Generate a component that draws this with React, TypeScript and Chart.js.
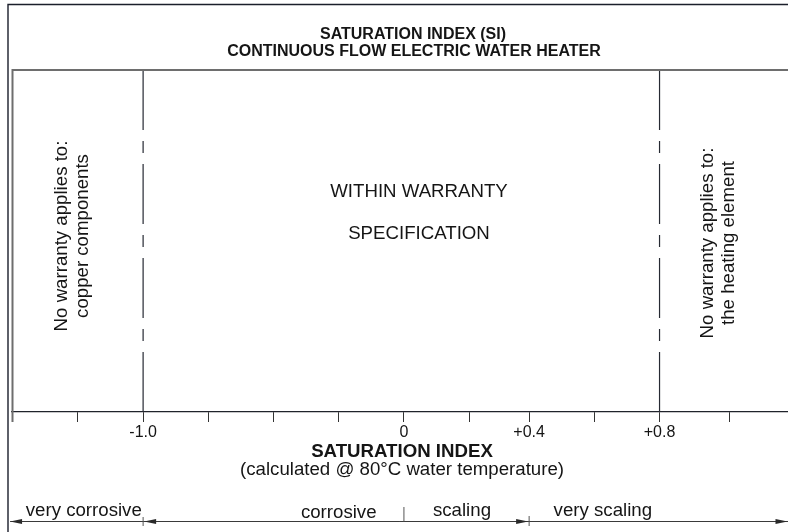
import React, { useEffect, useRef } from 'react';
import { Chart, registerables } from 'chart.js';

Chart.register(...registerables);

// ---- data ----
const CHART_TITLE = ['SATURATION INDEX (SI)', 'CONTINUOUS FLOW ELECTRIC WATER HEATER'];
const AXIS_TITLE = 'SATURATION INDEX';
const AXIS_SUBTITLE = '(calculated @ 80°C water temperature)';
// tick positions along the drawn axis (drawing is not linear in SI)
const SI_TICK_POS = [0, 1, 2, 3, 4, 5, 6, 7, 7.92, 8.93, 9.92, 11];
const SI_TICK_LABELS = ['', '', '-1.0', '', '', '', '0', '', '+0.4', '', '+0.8', ''];
// warranty limits at SI -1.0 and +0.8
const WARRANTY_LIMIT_POS = [2, 9.92];
const ZONE_BOUNDS = [-0.04, 2, 6, 7.92, 11.89];
const ZONE_LABELS = ['very corrosive', 'corrosive', 'scaling', 'very scaling'];
const ZONE_LABEL_POS = [1.09, 5.0, 6.89, 9.05];
const CENTER_TEXT = ['WITHIN WARRANTY', 'SPECIFICATION'];
const LEFT_TEXT = ['No warranty applies to:', 'copper components'];
const RIGHT_TEXT = ['No warranty applies to:', 'the heating element'];
const X_MIN = -0.0107;
const X_MAX = 11.89;

const FONT = '"Liberation Sans", Arial, Helvetica, sans-serif';
const INK = '#151515';
const LINE = '#262a33';

function arrowHead(ctx: CanvasRenderingContext2D, tipX: number, y: number, dir: number) {
  const len = 12;
  const half = 2.4;
  ctx.beginPath();
  ctx.moveTo(tipX, y);
  ctx.lineTo(tipX - dir * len, y - half);
  ctx.lineTo(tipX - dir * len, y + half);
  ctx.closePath();
  ctx.fill();
}

const drawingPlugin = {
  id: 'siDrawing',
  afterDraw(chart: any) {
    const ctx: CanvasRenderingContext2D = chart.ctx;
    const { left, right, top, bottom } = chart.chartArea;
    const xs = chart.scales.x;
    const px = (v: number) => xs.getPixelForValue(v);
    ctx.save();

    // outer frame
    ctx.strokeStyle = '#1b1f2b';
    ctx.lineWidth = 1.4;
    ctx.beginPath();
    ctx.moveTo(8, chart.height);
    ctx.lineTo(8, 4.5);
    ctx.lineTo(chart.width, 4.5);
    ctx.stroke();

    // inner box (top + left)
    ctx.strokeStyle = '#6e6e6e';
    ctx.lineWidth = 2;
    ctx.beginPath();
    ctx.moveTo(left + 0.5, bottom + 10);
    ctx.lineTo(left + 0.5, top);
    ctx.lineTo(right, top);
    ctx.stroke();

    // title
    ctx.fillStyle = INK;
    ctx.textAlign = 'center';
    ctx.textBaseline = 'alphabetic';
    ctx.font = `bold 16px ${FONT}`;
    ctx.fillText(CHART_TITLE[0], 413, 39);
    ctx.fillText(CHART_TITLE[1], 414, 55.5);

    // center text
    const midLimits = 419;
    ctx.font = `18.67px ${FONT}`;
    ctx.fillText(CENTER_TEXT[0], midLimits, 196.5);
    ctx.fillText(CENTER_TEXT[1], midLimits, 239);

    // rotated side texts
    const drawRotated = (lines: string[], cx: number, cy: number) => {
      ctx.save();
      ctx.translate(cx, cy);
      ctx.rotate(-Math.PI / 2);
      ctx.textAlign = 'center';
      ctx.textBaseline = 'alphabetic';
      ctx.fillText(lines[0], 0, -10.5);
      ctx.fillText(lines[1], 0, 10.5);
      ctx.restore();
    };
    const leftMid = (left + px(WARRANTY_LIMIT_POS[0])) / 2;
    const rightMid = (px(WARRANTY_LIMIT_POS[1]) + right) / 2;
    drawRotated(LEFT_TEXT, leftMid, 236);
    drawRotated(RIGHT_TEXT, rightMid, 243);

    // axis titles
    const axisMid = (left + right) / 2 + 2;
    ctx.font = `bold 18.67px ${FONT}`;
    ctx.fillText(AXIS_TITLE, axisMid, 456.5);
    ctx.font = `18.67px ${FONT}`;
    ctx.fillText(AXIS_SUBTITLE, axisMid, 475);

    // zone labels
    ZONE_LABELS.forEach((lab, i) => {
      ctx.fillText(lab, px(ZONE_LABEL_POS[i]), i === 1 ? 518 : 516);
    });

    // zone arrows
    const ay = 521.5;
    const x0 = px(ZONE_BOUNDS[0]);
    const x1 = px(ZONE_BOUNDS[1]);
    const x2 = px(ZONE_BOUNDS[2]);
    const x3 = px(ZONE_BOUNDS[3]);
    const x4 = px(ZONE_BOUNDS[4]);
    ctx.strokeStyle = '#3a3a3a';
    ctx.fillStyle = '#2a2a2a';
    ctx.lineWidth = 1;
    ctx.beginPath();
    ctx.moveTo(x0, ay);
    ctx.lineTo(x4, ay);
    ctx.stroke();
    arrowHead(ctx, x0, ay, -1);
    arrowHead(ctx, x1 + 1, ay, -1);
    arrowHead(ctx, x3 - 1, ay, 1);
    arrowHead(ctx, x4 - 0.5, ay, 1);
    ctx.strokeStyle = '#555';
    ctx.beginPath();
    ctx.moveTo(x1, ay - 4.5);
    ctx.lineTo(x1, ay + 4.5);
    ctx.moveTo(x2, ay - 14.5);
    ctx.lineTo(x2, ay);
    ctx.moveTo(x3, ay - 5.5);
    ctx.lineTo(x3, ay + 4.5);
    ctx.stroke();

    ctx.restore();
  },
};

export default function App() {
  const canvasRef = useRef<HTMLCanvasElement | null>(null);

  useEffect(() => {
    document.body.style.margin = '0';
    const canvas = canvasRef.current;
    if (!canvas) return;
    const chart = new Chart(canvas, {
      type: 'scatter',
      data: {
        datasets: WARRANTY_LIMIT_POS.map((p) => ({
          data: [
            { x: p, y: 1 },
            { x: p, y: 0 },
          ],
          showLine: true,
          borderColor: LINE,
          borderWidth: 1.2,
          borderDash: [60, 11, 12, 11],
          pointRadius: 0,
          fill: false,
        })),
      },
      options: {
        responsive: false,
        animation: false,
        devicePixelRatio: 1,
        layout: { padding: { left: 12, right: 0, top: 70, bottom: 0 } },
        plugins: {
          legend: { display: false },
          tooltip: { enabled: false },
          title: { display: false },
        },
        scales: {
          x: {
            type: 'linear',
            min: X_MIN,
            max: X_MAX,
            position: 'bottom',
            afterBuildTicks: (scale: any) => {
              scale.ticks = SI_TICK_POS.map((v) => ({ value: v }));
            },
            afterFit: (scale: any) => {
              scale.height = 120;
            },
            grid: {
              drawOnChartArea: false,
              drawTicks: true,
              tickLength: 10,
              tickColor: '#333',
              lineWidth: 1,
            },
            border: { display: true, color: '#20232b', width: 1.2 },
            ticks: {
              autoSkip: false,
              maxRotation: 0,
              padding: 1,
              color: INK,
              font: { family: FONT, size: 16 },
              callback: (_v: any, i: number) => SI_TICK_LABELS[i] ?? '',
            },
          },
          y: { display: false, min: 0, max: 1 },
        },
      },
      plugins: [drawingPlugin],
    } as any);
    return () => chart.destroy();
  }, []);

  return (
    <div style={{ width: 788, height: 532, background: '#fff' }}>
      <canvas ref={canvasRef} width={788} height={532} style={{ display: 'block' }} />
    </div>
  );
}
